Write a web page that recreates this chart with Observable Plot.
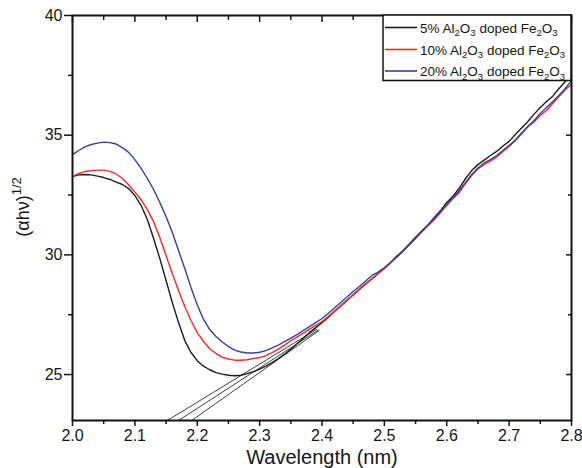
<!DOCTYPE html>
<html><head><meta charset="utf-8">
<script src="https://cdn.jsdelivr.net/npm/d3@7"></script>
<script src="https://cdn.jsdelivr.net/npm/@observablehq/plot@0.6"></script>
<style>body{margin:0;background:#fff;} svg{display:block;}</style>
</head><body><div id="chart"></div>
<script>
const wavelength = [2.00,2.01,2.02,2.03,2.04,2.05,2.06,2.07,2.08,2.09,
  2.10,2.11,2.12,2.13,2.14,2.15,2.16,2.17,2.18,2.19,
  2.20,2.21,2.22,2.23,2.24,2.25,2.26,2.27,2.28,2.29,
  2.30,2.31,2.32,2.33,2.34,2.35,2.36,2.37,2.38,2.39,
  2.40,2.41,2.42,2.43,2.44,2.45,2.46,2.47,2.48,2.49,
  2.50,2.51,2.52,2.53,2.54,2.55,2.56,2.57,2.58,2.59,
  2.60,2.61,2.62,2.63,2.64,2.65,2.66,2.67,2.68,2.69,
  2.70,2.71,2.72,2.73,2.74,2.75,2.76,2.77,2.78,2.79,
  2.80];
const black5 = [33.27,33.34,33.36,33.34,33.29,33.23,33.15,33.04,32.94,32.77,
  32.48,32.06,31.48,30.68,29.85,28.93,28.01,27.17,26.42,25.92,
  25.58,25.35,25.20,25.08,25.02,24.97,24.95,24.97,25.04,25.12,
  25.23,25.35,25.50,25.67,25.85,26.06,26.29,26.52,26.75,26.96,
  27.17,27.38,27.63,27.86,28.09,28.32,28.55,28.78,28.99,29.22,
  29.43,29.68,29.95,30.18,30.45,30.74,31.00,31.25,31.56,31.85,
  32.19,32.45,32.79,33.18,33.52,33.77,33.96,34.15,34.32,34.55,
  34.74,35.03,35.30,35.57,35.88,36.16,36.41,36.63,36.95,37.24,
  37.54];
const red10 = [33.27,33.40,33.48,33.52,33.54,33.54,33.49,33.38,33.19,32.93,
  32.62,32.31,31.89,31.39,30.72,29.97,29.22,28.51,27.84,27.26,
  26.75,26.38,26.08,25.88,25.73,25.65,25.60,25.60,25.62,25.67,
  25.71,25.79,25.92,26.06,26.23,26.42,26.56,26.73,26.90,27.05,
  27.21,27.42,27.65,27.88,28.11,28.34,28.57,28.80,29.01,29.22,
  29.43,29.66,29.91,30.16,30.41,30.68,30.95,31.22,31.47,31.77,
  32.06,32.35,32.60,32.98,33.31,33.59,33.77,33.92,34.08,34.32,
  34.53,34.78,35.05,35.35,35.55,35.82,36.03,36.32,36.61,36.90,
  37.12];
const blue20 = [34.19,34.36,34.51,34.61,34.67,34.71,34.69,34.63,34.48,34.28,
  33.98,33.61,33.19,32.73,32.19,31.60,30.93,30.18,29.43,28.63,
  27.92,27.30,26.88,26.59,26.36,26.17,26.02,25.94,25.90,25.90,
  25.93,26.00,26.11,26.23,26.38,26.52,26.67,26.84,27.00,27.17,
  27.34,27.55,27.78,28.01,28.24,28.47,28.68,28.91,29.14,29.28,
  29.47,29.68,29.91,30.16,30.43,30.70,30.99,31.25,31.52,31.81,
  32.10,32.37,32.69,33.02,33.36,33.63,33.84,33.98,34.15,34.36,
  34.57,34.80,35.09,35.36,35.61,35.91,36.16,36.41,36.67,36.95,
  37.28];
const seriesNames = ["5% Al2O3 doped Fe2O3", "10% Al2O3 doped Fe2O3", "20% Al2O3 doped Fe2O3"];
const seriesColors = ["#1c1c1c", "#ee2c2c", "#34419a"];
const xTicks = [2.0,2.1,2.2,2.3,2.4,2.5,2.6,2.7,2.8];
const xMinor = [2.05,2.15,2.25,2.35,2.45,2.55,2.65,2.75];
const yTicks = [25,30,35,40];
const yMinor = [27.5,32.5,37.5];
const tangentX1 = [2.152,2.170,2.191];
const tangentY1 = [23.08,23.08,23.08];
const tangentX2 = [2.392,2.394,2.396];
const tangentY2 = [26.90,26.86,26.85];
const xTitle = "Wavelength (nm)";
const yTitle = "(\u03B1h\u03BD)";
const yTitleSup = "1/2";

const series = [black5, red10, blue20];
const rows = [];
series.forEach((vals, s) => wavelength.forEach((w, i) => rows.push({w, v: vals[i], s})));

const blank = () => "";
const plot = Plot.plot({
  width: 582, height: 468,
  marginLeft: 72, marginRight: 11, marginTop: 15, marginBottom: 48,
  style: {fontFamily: "'Liberation Sans', Arial, sans-serif", fontSize: "16px", color: "#161616", background: "#fff"},
  x: {domain: [2.0, 2.8], label: null},
  y: {domain: [23.08, 40], label: null},
  marks: [
    Plot.link(tangentX1, {x1: tangentX1, y1: tangentY1, x2: tangentX2, y2: tangentY2, stroke: "#2a2a2a", strokeWidth: 0.9}),
    ...series.map((vals, s) => Plot.line(rows.filter(d => d.s === s), {x: "w", y: "v", stroke: seriesColors[s], strokeWidth: 1.4})),
    Plot.axisX(xTicks, {anchor: "bottom", tickSize: 6, tickPadding: 3, tickFormat: d => d.toFixed(1), fontSize: 16, strokeWidth: 1.5}),
    Plot.axisX(xMinor, {anchor: "bottom", tickSize: 4, tickFormat: blank, strokeWidth: 1.5}),
    Plot.axisX(xTicks, {anchor: "top", tickSize: 6, dy: 6, tickFormat: blank, strokeWidth: 1.5}),
    Plot.axisX(xMinor, {anchor: "top", tickSize: 4, dy: 4, tickFormat: blank, strokeWidth: 1.5}),
    Plot.axisY(yTicks, {anchor: "left", tickSize: 8, tickPadding: 2, tickFormat: d => String(d), fontSize: 16, strokeWidth: 1.5}),
    Plot.axisY(yMinor, {anchor: "left", tickSize: 4, tickFormat: blank, strokeWidth: 1.5}),
    Plot.axisY(yTicks, {anchor: "right", tickSize: 6, dx: -6, tickFormat: blank, strokeWidth: 1.5}),
    Plot.axisY(yMinor, {anchor: "right", tickSize: 4, dx: -4, tickFormat: blank, strokeWidth: 1.5}),
    Plot.frame({stroke: "#111", strokeWidth: 2}),
    Plot.text([xTitle], {text: d => d, frameAnchor: "bottom", dy: 43, fontSize: 20, fill: "#161616"})
  ]
});
document.getElementById("chart").appendChild(plot);

// y title with superscript
const svg = d3.select(plot);
const yt = svg.append("text")
  .attr("transform", "translate(29,207) rotate(-90)")
  .attr("text-anchor", "middle")
  .attr("font-family", "'Liberation Sans', Arial, sans-serif")
  .attr("font-size", 18)
  .attr("fill", "#161616");
yt.append("tspan").text(yTitle);
yt.append("tspan").attr("dy", -8).attr("font-size", 13).text(yTitleSup);

// legend
const lgX = 383, lgY = 15, lgW = 571 - 383, lgH = 65.5;
const rowY = [27.5, 49.5, 71];
const lg = svg.append("g").attr("font-family", "'Liberation Sans', Arial, sans-serif")
  .attr("font-size", 13.5).attr("fill", "#161616").attr("text-anchor", "start");
lg.append("rect").attr("x", lgX).attr("y", lgY).attr("width", lgW).attr("height", lgH)
  .attr("fill", "#fff").attr("stroke", "#111").attr("stroke-width", 1.5);
seriesNames.forEach((name, i) => {
  lg.append("line").attr("x1", lgX + 2).attr("x2", lgX + 34).attr("y1", rowY[i]).attr("y2", rowY[i])
    .attr("stroke", seriesColors[i]).attr("stroke-width", 1.6);
  const t = lg.append("text").attr("x", lgX + 37).attr("y", rowY[i] + 5).attr("text-anchor", "start");
  const parts = name.split(/(?<=[A-Za-z])(\d)/);
  let down = false;
  parts.forEach((p, k) => {
    if (p === "") return;
    const isSub = k % 2 === 1;
    const ts = t.append("tspan").text(p);
    if (isSub && !down) { ts.attr("dy", 3.5).attr("font-size", 9.5); down = true; }
    else if (isSub) { ts.attr("font-size", 9.5); }
    else if (down) { ts.attr("dy", -3.5); down = false; }
  });
});
</script>
</body></html>
